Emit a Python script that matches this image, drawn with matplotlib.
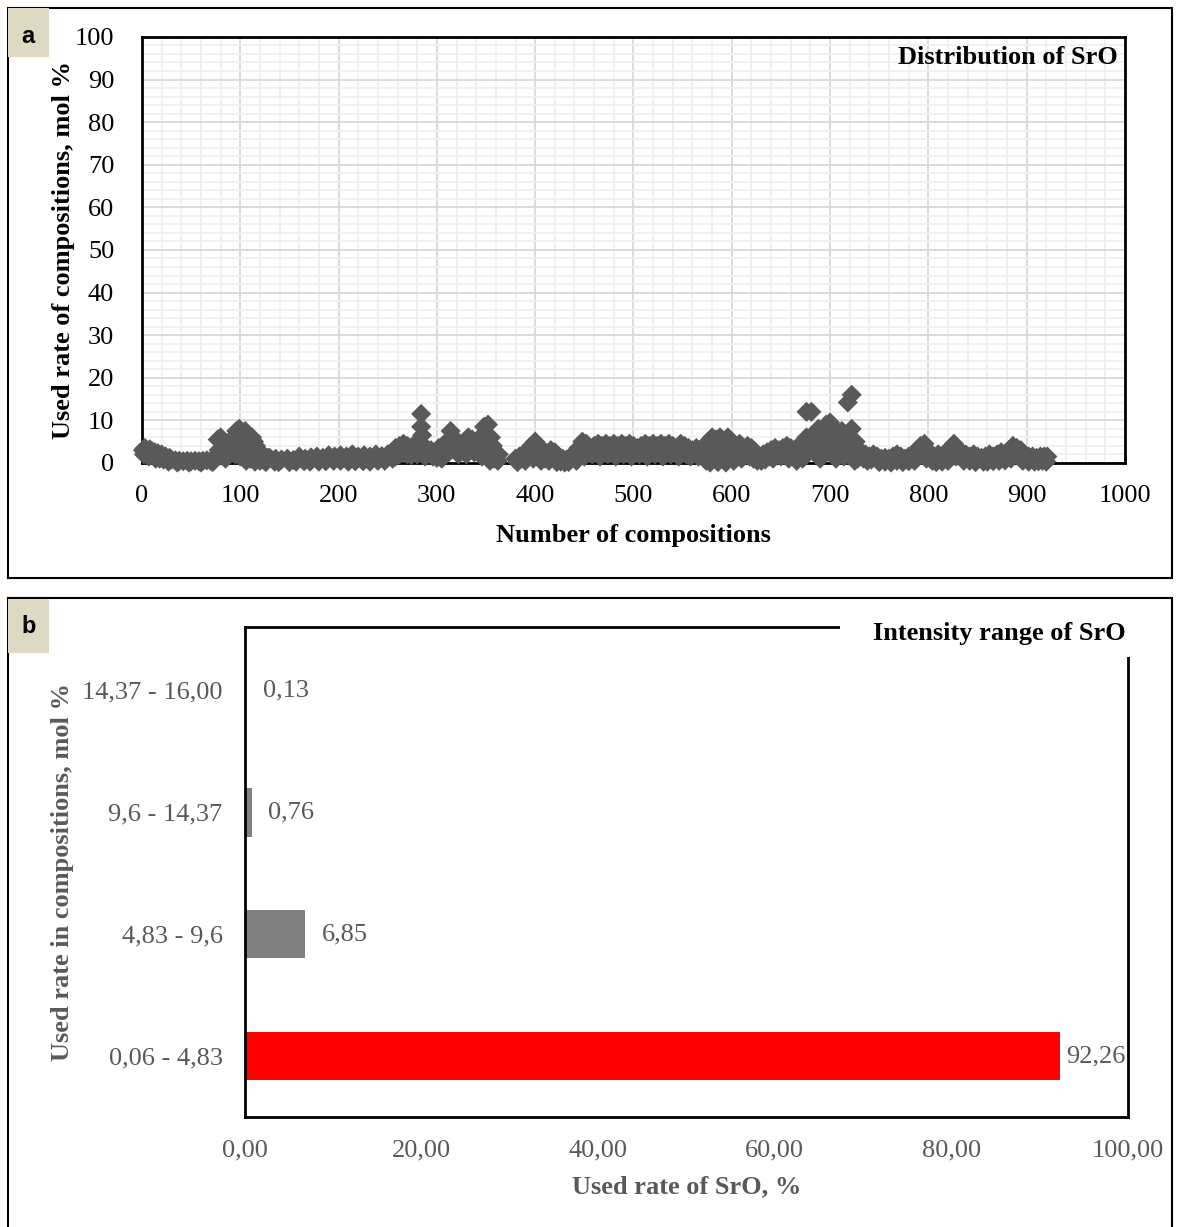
import matplotlib
matplotlib.use("Agg")
import matplotlib.pyplot as plt
from matplotlib.patches import Rectangle
from matplotlib.ticker import MultipleLocator, FuncFormatter

plt.rcParams['font.family'] = ['Liberation Serif', 'DejaVu Serif']

# SrO content per composition (composition number, mol %)
comp_no = [
    1, 3, 5, 8, 10, 13, 16, 20, 24, 28, 5, 12, 18, 2, 7, 14, 22, 27,
    30, 34, 38, 42, 46, 50, 54, 58, 62, 66, 70, 74, 36, 48, 60, 72,
    77, 80, 83, 86, 88, 90, 93, 96, 99, 101, 103, 105, 108, 110, 112, 114, 116, 118, 120, 122, 125, 128,
    85, 95, 100, 106, 110, 115, 120, 126, 78, 82, 92, 97, 102, 107, 112, 117, 123,
    130, 136, 142, 148, 154, 160, 166, 172, 178, 184, 190, 196, 202, 208, 214, 220, 226, 232, 238, 244, 250,
    135, 150, 165, 180, 195, 210, 225, 240, 139, 157, 171, 187, 202, 217, 232, 247,
    254, 258, 262, 266, 270, 274, 278, 282, 284, 284, 285, 287, 290, 255, 262, 270, 280, 288,
    258, 266, 274, 278, 286,
    294, 298, 302, 306, 310, 314, 317, 320, 324, 328, 332, 336, 340, 344, 348, 352, 355, 357, 360, 363,
    296, 305, 312, 322, 330, 338, 346, 354, 362, 300, 308, 316, 326, 334, 342, 350, 358,
    380, 384, 388, 392, 396, 400, 404, 408, 412, 416, 420, 424, 428, 432, 436,
    382, 390, 398, 406, 414, 422, 430, 386, 394, 402, 410, 418, 426, 434,
    440, 444, 448, 452, 456, 460, 464, 468, 472, 476, 480, 484, 488, 492, 496, 500, 504, 508, 512, 516,
    520, 524, 528, 532, 536, 540, 544, 548, 552, 556,
    442, 450, 458, 466, 474, 482, 490, 498, 506, 514, 522, 530, 538, 546, 554,
    446, 454, 462, 470, 478, 486, 494, 502, 510, 518, 526, 534, 542, 550, 558,
    560, 564, 568, 572, 576, 580, 584, 588, 592, 596, 600, 604, 608, 612, 616, 620, 624, 628, 632, 636,
    640, 644, 648, 652, 656, 660, 664, 668, 672, 676, 681, 676, 680,
    566, 574, 578, 586, 594, 602, 610, 618, 626, 634, 642, 650, 658, 666, 672,
    570, 578, 582, 590, 598, 606, 614, 622, 630, 638, 646, 654, 662, 670,
    684, 688, 692, 696, 700, 703, 706, 709, 712, 715, 718, 722, 722, 726, 728,
    686, 690, 694, 698, 702, 706, 710, 714, 720, 725,
    684, 688, 692, 696, 700, 704, 708, 712, 716, 722, 728,
    732, 736, 740, 744, 748, 752, 756, 760, 764, 768, 772, 776, 780, 784, 788, 792, 796, 799, 802, 806,
    810, 814, 818, 822, 826, 830, 834, 838, 842, 846, 850, 854, 858, 862, 866, 870, 874, 878, 882, 886,
    890, 894, 898, 902, 906, 910, 914, 918, 921,
    738, 750, 762, 774, 786, 798, 808, 820, 836, 848, 860, 872, 884, 896, 908, 916,
    734, 742, 756, 768, 780, 790, 794, 804, 814, 824, 828, 842, 856, 866, 878, 888, 892, 902, 912, 920,
]
sro_mol = [
    3, 3.5, 3, 3.2, 2.8, 2.5, 2.3, 2, 1.5, 1.2, 2, 1.8, 1, 2, 1.5, 1, 0.8, 0.3,
    0.8, 0.6, 0.5, 0.4, 0.5, 0.4, 0.5, 0.4, 0.5, 0.6, 0.5, 0.8, 0.1, 0.1, 0.1, 0.2,
    5.5, 6, 4.5, 3.5, 2, 4.5, 6, 7.5, 8, 7, 6, 7.5, 6.5, 5, 6, 5, 4, 3, 2.5, 2, 1.5, 1.2,
    1, 2, 1.5, 0.5, 1, 0.3, 0.5, 0.2, 3, 2, 3, 5, 3.5, 3, 2.5, 1.5, 0.8,
    1.2, 1, 0.8, 1, 0.7, 1.5, 1, 1.3, 1.5, 1.2, 1.8, 1.5, 1.8, 1.5, 2, 1.5, 1.8, 1.5, 2, 1.6, 2,
    0.3, 0.2, 0.4, 0.3, 0.5, 0.3, 0.4, 0.5, 0.2, 0.3, 0.3, 0.4, 0.5, 0.4, 0.3, 0.5,
    2.5, 3.5, 4, 4.5, 4, 3.5, 4.5, 5, 11.5, 8.5, 6.5, 4, 3, 1, 2, 2, 2, 1.5,
    1.5, 2.5, 1.8, 2.5, 2.5,
    3, 2.5, 3.5, 4, 5, 7.5, 6, 5, 4, 5, 6, 5.5, 4.5, 6, 8.5, 9, 6, 4, 2.5, 2,
    1.5, 1, 2.5, 2, 2, 2.5, 1.5, 0.5, 0.5, 1.2, 2.5, 3.5, 3, 3.5, 2.5, 4, 1,
    1, 1.5, 2, 3, 4, 5, 4, 2.5, 2, 3, 2.5, 1.5, 1, 0.8, 1.5,
    0.2, 0.5, 1, 0.5, 0.5, 0.2, 0.1, 1, 2, 2.5, 1, 1.2, 0.3, 0.2,
    2, 3.5, 5, 4.5, 3.5, 4, 4.5, 4, 4.5, 4, 4.5, 4, 4.5, 4, 4.5, 4, 3.5, 4, 4.5, 4,
    4.5, 4, 4.5, 4, 4.5, 4, 3.5, 4.5, 4, 3.5,
    0.5, 1.5, 2, 1.5, 2, 1.5, 2, 1.5, 2, 1.5, 2, 1.5, 2, 1.5, 2,
    2, 2.8, 3, 2.8, 3, 2.8, 3, 2.8, 3, 2.8, 3, 2.8, 3, 2.8, 1.5,
    3, 3.5, 3, 4, 5, 6, 5.5, 6, 5, 6, 5, 4, 4.5, 3.5, 4, 3.5, 2.5, 1.5, 2, 2.5,
    3, 3.5, 3, 3.5, 4, 3.5, 3, 4, 3.5, 12, 12, 6, 5,
    1.5, 0.5, 0.1, 0.2, 0.1, 0.5, 1, 1.5, 0.5, 0.8, 1, 1.5, 1, 0.5, 1,
    2, 3, 2.5, 3, 2.5, 2, 2, 1, 0.5, 1.5, 2, 2, 2, 2,
    7, 8, 7, 9, 9.5, 8, 7, 6, 7.5, 6, 14.2, 16, 8, 5, 3,
    2, 1, 3, 4, 2, 1, 3, 1.5, 2, 0.5,
    3.5, 4.5, 4, 6, 6, 4.5, 4, 4.5, 3.5, 4, 1,
    2.5, 2, 1.5, 2, 1.5, 1, 1.2, 1, 1.5, 2, 1.5, 1, 1.5, 2, 3, 4, 4.5, 3, 2, 1.5,
    2, 1.5, 2.5, 3.5, 4.5, 3, 2.5, 2, 1.5, 2, 1.5, 1.2, 1.5, 2, 1.5, 2, 2.5, 2, 3, 4,
    3.5, 3, 2, 1.5, 1.5, 1.2, 1.5, 1.5, 1.5,
    0.5, 0.2, 0.1, 0.2, 0.5, 1, 0.2, 0.5, 0.5, 0.2, 0.3, 0.5, 1, 0.5, 0.3, 0.5,
    1, 0.8, 0.3, 0.5, 0.4, 1.5, 2, 0.5, 0.3, 2, 1.5, 0.5, 0.3, 0.4, 0.6, 2, 1.5, 0.3, 0.4, 0.3,
]

# share of compositions in each SrO interval
range_labels = ["0,06 - 4,83", "4,83 - 9,6", "9,6 - 14,37", "14,37 - 16,00"]
range_share = [92.26, 6.85, 0.76, 0.13]
range_colors = ["#ff0000", "#808080", "#808080", "#808080"]

GRAY = "#595959"
BEIGE = "#ddd9c3"
FS = 19

fig = plt.figure(figsize=(11.8, 12.27), dpi=100)

# panel frames
fig.patches.append(Rectangle((0.0068, 0.529), 0.9864, 0.4645, transform=fig.transFigure,
                             fill=False, edgecolor="black", lw=1.5))
fig.patches.append(Rectangle((0.0068, -0.02), 0.9864, 0.5326, transform=fig.transFigure,
                             fill=False, edgecolor="black", lw=1.5))
for y0, h, dy, letter in [(0.9535, 0.040, -0.003, "a"), (0.4678, 0.044, 0.0, "b")]:
    fig.patches.append(Rectangle((0.0068, y0), 0.0345, h, transform=fig.transFigure,
                                 facecolor=BEIGE, edgecolor="none", zorder=5))
    fig.text(0.0068 + 0.0172, y0 + h / 2 + dy, letter, family="Liberation Sans", fontweight="bold",
             fontsize=17, ha="center", va="center", zorder=6)

# ---- panel a: scatter of SrO content ----
ax1 = fig.add_axes([0.1203, 0.6227, 0.8331, 0.3472])
ax1.scatter(comp_no, sro_mol, marker="D", s=105, color=GRAY, edgecolors="none", zorder=3, clip_on=False)
ax1.set_xlim(0, 1000)
ax1.set_ylim(0, 100)
ax1.xaxis.set_major_locator(MultipleLocator(100))
ax1.yaxis.set_major_locator(MultipleLocator(10))
ax1.xaxis.set_minor_locator(MultipleLocator(20))
ax1.yaxis.set_minor_locator(MultipleLocator(2))
ax1.grid(which="major", color="#d9d9d9", lw=1.3)
ax1.grid(which="minor", color="#f0f0f0", lw=1.3)
ax1.set_axisbelow(True)
ax1.tick_params(which="both", length=0, labelsize=FS)
ax1.tick_params(axis="y", pad=20)
ax1.tick_params(axis="x", pad=16)
for sp in ax1.spines.values():
    sp.set_linewidth(2)
ax1.set_xlabel("Number of compositions", fontsize=FS, fontweight="bold", labelpad=12)
ax1.set_ylabel("Used rate of compositions, mol %", fontsize=FS, fontweight="bold", labelpad=0)
ax1.text(0.993, 0.978, "Distribution of SrO", transform=ax1.transAxes, ha="right", va="top",
         fontsize=FS, fontweight="bold")

# ---- panel b: horizontal bars of interval shares ----
ax2 = fig.add_axes([0.2076, 0.0897, 0.7483, 0.3993])
pos = list(range(len(range_labels)))
bars = ax2.barh(pos, range_share, height=0.4, color=range_colors)
ax2.set_xlim(0, 100)
ax2.set_ylim(-0.5, 3.52)
ax2.set_yticks(pos)
ax2.set_yticklabels(range_labels)
ax2.xaxis.set_major_locator(MultipleLocator(20))
ax2.xaxis.set_major_formatter(FuncFormatter(lambda v, p: f"{v:.2f}".replace(".", ",")))
ax2.tick_params(length=0, labelsize=FS, labelcolor=GRAY)
ax2.tick_params(axis="y", pad=16)
ax2.tick_params(axis="x", pad=16)
for sp in ax2.spines.values():
    sp.set_linewidth(2)
for rect, val in zip(bars, range_share):
    off = 5 if val > 90 else 12
    ax2.annotate(f"{val:.2f}".replace(".", ","), (rect.get_width(), rect.get_y() + rect.get_height() / 2),
                 xytext=(off, 0), textcoords="offset points", ha="left", va="center",
                 fontsize=FS, color=GRAY)
ax2.set_xlabel("Used rate of SrO, %", fontsize=FS, fontweight="bold", color=GRAY, labelpad=10)
ax2.set_ylabel("Used rate in compositions, mol %", fontsize=FS, fontweight="bold", color=GRAY, labelpad=6)

# white patch behind the title breaks the frame at the top-right corner
ax2.add_patch(Rectangle((0.674, 0.939), 0.4, 0.2, transform=ax2.transAxes, facecolor="white",
                        edgecolor="none", clip_on=False, zorder=4))
ax2.text(0.997, 0.986, "Intensity range of SrO", transform=ax2.transAxes, ha="right", va="center",
         fontsize=FS, fontweight="bold", zorder=5)

fig.savefig("out.png", dpi=100)
